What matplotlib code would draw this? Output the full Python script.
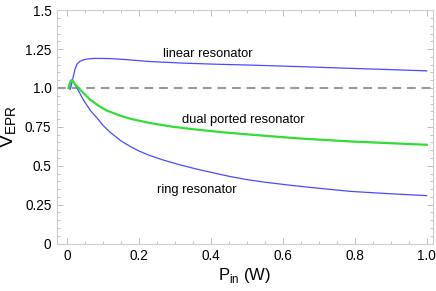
import matplotlib
matplotlib.use("Agg")
import matplotlib.pyplot as plt
from matplotlib.ticker import MultipleLocator

plt.rcParams['font.family'] = ['Liberation Sans', 'DejaVu Sans']

# values
lin_x = [0.008, 0.011, 0.014, 0.018, 0.022, 0.028, 0.036, 0.046, 0.056, 0.075, 0.092, 0.12,
         0.16, 0.23, 0.32, 0.41, 0.51, 0.65, 0.79, 0.9, 1.0]
lin_y = [0.99, 1.01, 1.04, 1.08, 1.12, 1.155, 1.172, 1.181, 1.186, 1.19, 1.19, 1.189,
         1.183, 1.17, 1.16, 1.153, 1.147, 1.137, 1.126, 1.118, 1.11]

ring_x = [0.006, 0.009, 0.012, 0.015, 0.02, 0.03, 0.045, 0.065, 0.086, 0.10, 0.12, 0.15,
          0.175, 0.20, 0.23, 0.27, 0.314, 0.36, 0.40, 0.453, 0.50, 0.555, 0.62, 0.68,
          0.79, 0.9, 1.0]
ring_y = [1.0, 1.035, 1.05, 1.048, 1.03, 0.99, 0.925, 0.855, 0.80, 0.76, 0.715, 0.66,
          0.625, 0.595, 0.566, 0.535, 0.506, 0.479, 0.458, 0.431, 0.411, 0.393, 0.375, 0.36,
          0.335, 0.32, 0.308]

dual_x = [0.004, 0.008, 0.012, 0.016, 0.02, 0.036, 0.064, 0.085, 0.11, 0.15, 0.18, 0.23,
          0.29, 0.35, 0.43, 0.51, 0.65, 0.79, 0.9, 1.0]
dual_y = [1.0, 1.035, 1.05, 1.045, 1.03, 0.99, 0.925, 0.89, 0.855, 0.82, 0.80, 0.775,
          0.752, 0.735, 0.716, 0.70, 0.675, 0.656, 0.645, 0.635]

fig = plt.figure(figsize=(4.36, 2.91), dpi=100)
ax = fig.add_axes([0.1307, 0.163, 0.862, 0.802])

ax.axhline(1.0, color='#999999', lw=1.5, dashes=(4.2, 2.8))
ax.plot(lin_x, lin_y, color='#4a4aff', lw=0.9)
ax.plot(ring_x, ring_y, color='#4a4aff', lw=0.9)
ax.plot(dual_x, dual_y, color='#33dd33', lw=1.6)

ax.text(0.39, 1.22, 'linear resonator', fontsize=9.3, ha='center', va='center')
ax.text(0.49, 0.795, 'dual ported resonator', fontsize=9.3, ha='center', va='center')
ax.text(0.361, 0.346, 'ring resonator', fontsize=9.3, ha='center', va='center')

ax.set_xlim(-0.028, 1.017)
ax.set_ylim(0, 1.5)
ax.xaxis.set_minor_locator(MultipleLocator(0.05))
ax.yaxis.set_minor_locator(MultipleLocator(0.05))
ax.set_xticks([0, 0.2, 0.4, 0.6, 0.8, 1.0])
ax.set_xticklabels(['0', '0.2', '0.4', '0.6', '0.8', '1.0'])
ax.set_yticks([0, 0.25, 0.5, 0.75, 1.0, 1.25, 1.5])
ax.set_yticklabels(['0', '0.25', '0.5', '0.75', '1.0', '1.25', '1.5'])

for s in ax.spines.values():
    s.set_color('#cccccc')
    s.set_linewidth(0.8)
ax.tick_params(which='both', direction='in', top=True, right=True, color='#bbbbbb')
ax.tick_params(which='major', length=4, width=0.7, labelsize=9.8, pad=4)
ax.tick_params(which='minor', length=2, width=0.6)

ax.set_xlabel('P$_{\\mathregular{in}}$ (W)', fontsize=12, labelpad=2)
ax.set_ylabel('V$_{\\mathregular{EPR}}$', fontsize=14, labelpad=4)

fig.savefig('out.png', dpi=100)
